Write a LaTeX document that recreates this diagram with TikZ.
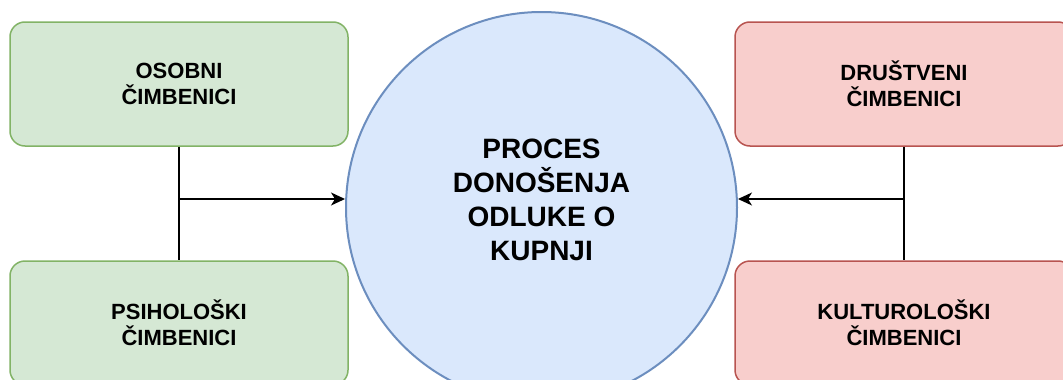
\documentclass[tikz,border=0pt]{standalone}
\usepackage{fontspec}
\setmainfont{Liberation Sans}
\usetikzlibrary{arrows.meta}
\definecolor{gfill}{HTML}{D5E8D4}
\definecolor{gline}{HTML}{82B366}
\definecolor{rfill}{HTML}{F8CECC}
\definecolor{rline}{HTML}{B85450}
\definecolor{bfill}{HTML}{DAE8FC}
\definecolor{bline}{HTML}{6C8EBF}
\tikzset{
  factor/.style={rectangle, rounded corners=15pt, line width=1.5pt, minimum width=338pt, minimum height=124pt, align=center, font=\fontsize{22}{26}\selectfont\bfseries, inner sep=0pt},
  green/.style={factor, fill=gfill, draw=gline},
  red/.style={factor, fill=rfill, draw=rline},
  proc/.style={circle, fill=bfill, draw=bline, line width=2pt, minimum size=391pt, inner sep=0pt},
  conn/.style={line width=1.3pt, black},
  arr/.style={conn, -{Stealth[length=14pt,width=13pt,inset=4pt]}}
}
\begin{document}
\begin{tikzpicture}[x=1pt,y=-1pt]
\useasboundingbox (0,0) rectangle (1063,380);
\clip (0,0) rectangle (1063,380);
\fill[white] (0,0) rectangle (1063,380);
\node[proc, label={[font=\fontsize{28}{34}\selectfont\bfseries, align=center, yshift=8pt]center:PROCES\\DONOŠENJA\\ODLUKE O\\KUPNJI}] (c) at (541.5,207.5) {};
\node[green] (os) at (179,84) {OSOBNI\\ČIMBENICI};
\node[green] (ps) at (179,323) {PSIHOLOŠKI\\ČIMBENICI};
\node[red] (dr) at (904,84) {DRUŠTVENI\\ČIMBENICI};
\node[red] (ku) at (904,323) {KULTUROLOŠKI\\ČIMBENICI};
\coordinate (jl) at (179,199);
\coordinate (jr) at (904,199);
\draw[conn] (os.south) -- (ps.north);
\draw[conn] (dr.south) -- (ku.north);
\draw[arr] (jl) -- (jl -| c.west);
\draw[arr] (jr) -- (jr -| c.east);
\end{tikzpicture}
\end{document}
